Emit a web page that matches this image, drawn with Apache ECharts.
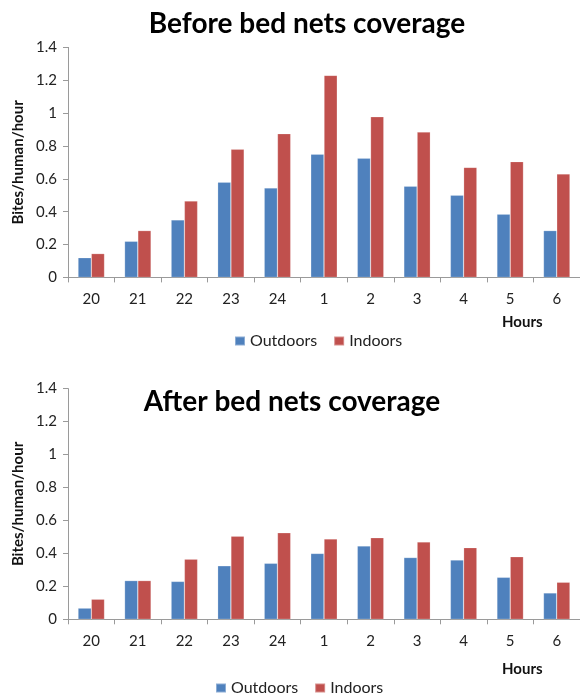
<!DOCTYPE html>
<html>
<head>
<meta charset="utf-8">
<script src="https://cdn.jsdelivr.net/npm/echarts@6/dist/echarts.min.js"></script>
<style>
  html, body { margin: 0; padding: 0; background: #fff; }
  #chart { width: 580px; height: 694px; }
</style>
</head>
<body>
<div id="chart"></div>
<script>
const hours = ['20', '21', '22', '23', '24', '1', '2', '3', '4', '5', '6'];
const beforeOutdoors = [0.12, 0.22, 0.35, 0.58, 0.545, 0.75, 0.725, 0.555, 0.50, 0.385, 0.285];
const beforeIndoors  = [0.145, 0.285, 0.465, 0.78, 0.875, 1.23, 0.978, 0.885, 0.67, 0.705, 0.63];
const afterOutdoors  = [0.068, 0.235, 0.23, 0.325, 0.34, 0.40, 0.445, 0.375, 0.36, 0.255, 0.16];
const afterIndoors   = [0.122, 0.235, 0.365, 0.505, 0.525, 0.488, 0.495, 0.47, 0.435, 0.38, 0.225];
const yTicks = [0, 0.2, 0.4, 0.6, 0.8, 1, 1.2, 1.4];

const FONT = 'Lato, "Open Sans", "Liberation Sans", sans-serif';
const BLUE = '#4F81BD';
const RED = '#C0504D';
const AXIS = '#9a9a9a';

function xAxis(gridIndex) {
  return {
    type: 'category', gridIndex: gridIndex, data: hours,
    axisLine: { lineStyle: { color: AXIS, width: 1 } },
    axisTick: { show: true, length: 5, lineStyle: { color: AXIS } },
    axisLabel: { color: '#222', fontFamily: FONT, fontSize: 15, margin: 14 },
    splitLine: { show: false }
  };
}
function yAxis(gridIndex) {
  return {
    type: 'value', gridIndex: gridIndex, min: yTicks[0], max: yTicks[yTicks.length - 1], interval: 0.2,
    name: 'Bites/human/hour', nameLocation: 'middle', nameGap: 41,
    nameTextStyle: { fontFamily: FONT, fontWeight: 'bold', fontSize: 15, color: '#111' },
    axisLine: { show: true, lineStyle: { color: AXIS, width: 1 } },
    axisTick: { show: true, length: 5, lineStyle: { color: AXIS } },
    axisLabel: { color: '#222', fontFamily: FONT, fontSize: 15, margin: 11 },
    splitLine: { show: false }
  };
}
function bar(name, data, color, idx) {
  return {
    name: name, type: 'bar', data: data, xAxisIndex: idx, yAxisIndex: idx,
    barGap: '0%', barCategoryGap: '43%',
    itemStyle: { color: color, borderColor: 'rgba(255,255,255,0.35)', borderWidth: 0.6 },
    emphasis: { disabled: true }
  };
}
const legendBase = {
  data: ['Outdoors', 'Indoors'], orient: 'horizontal', itemWidth: 10, itemHeight: 9, itemGap: 16,
  padding: 0, icon: 'rect', textStyle: { fontFamily: FONT, fontSize: 16, color: '#222' }
};
const titleStyle = { fontFamily: FONT, fontWeight: 'bold', fontSize: 28, color: '#000' };
const hoursStyle = { fontFamily: FONT, fontWeight: 'bold', fontSize: 15, color: '#111' };

const chart = echarts.init(document.getElementById('chart'));
chart.setOption({
  animation: false,
  title: [
    { text: 'Before bed nets coverage', left: 307, top: 10, textAlign: 'center', padding: 0, textStyle: titleStyle },
    { text: 'After bed nets coverage', left: 292, top: 388, textAlign: 'center', padding: 0, textStyle: titleStyle },
    { text: 'Hours', left: 502, top: 315, padding: 0, textStyle: hoursStyle },
    { text: 'Hours', left: 502, top: 662, padding: 0, textStyle: hoursStyle }
  ],
  legend: [
    Object.assign({}, legendBase, { left: 234, top: 333 }),
    Object.assign({}, legendBase, { left: 215, top: 680 })
  ],
  grid: [
    { left: 68, top: 47.4, width: 514, height: 230, containLabel: false },
    { left: 68, top: 388.6, width: 514, height: 230.7, containLabel: false }
  ],
  xAxis: [xAxis(0), xAxis(1)],
  yAxis: [yAxis(0), yAxis(1)],
  series: [
    bar('Outdoors', beforeOutdoors, BLUE, 0),
    bar('Indoors', beforeIndoors, RED, 0),
    bar('Outdoors', afterOutdoors, BLUE, 1),
    bar('Indoors', afterIndoors, RED, 1)
  ]
});
</script>
</body>
</html>
